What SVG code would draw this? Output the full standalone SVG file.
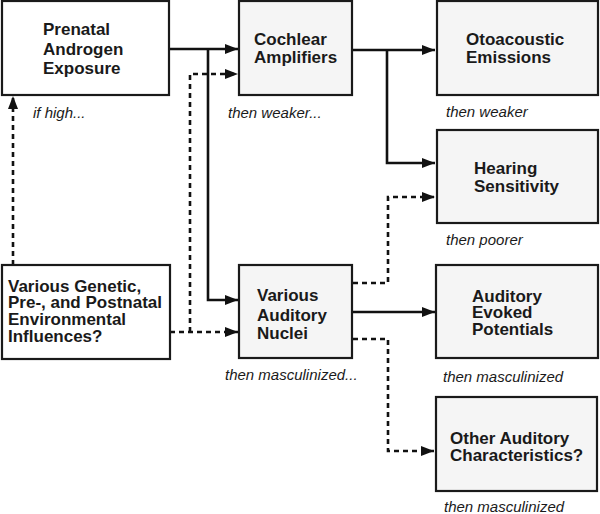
<svg xmlns="http://www.w3.org/2000/svg" width="600" height="514" viewBox="0 0 600 514">
<style>
.box{stroke:#1a1a1a;stroke-width:2.2}
.w{fill:#ffffff}
.g{fill:#f5f5f5}
.t{font-family:"Liberation Sans",Arial,sans-serif;font-weight:bold;font-size:17px;fill:#1a1a1a}
.n{font-family:"Liberation Sans",Arial,sans-serif;font-style:italic;font-size:15px;fill:#1a1a1a}
.s{fill:none;stroke:#111;stroke-width:2.6}
.d{fill:none;stroke:#111;stroke-width:2.6;stroke-dasharray:5 4}
</style>
<defs>
<marker id="ah" markerUnits="userSpaceOnUse" markerWidth="14" markerHeight="12" refX="13" refY="6" orient="auto">
<path d="M0,1 L13,6 L0,11 Z" fill="#111"/>
</marker>
</defs>
<rect width="600" height="514" fill="#fff"/>
<g id="connectors">
<path class="s" d="M169,49 H238" marker-end="url(#ah)"/>
<path class="s" d="M208,49 V300 H238" marker-end="url(#ah)"/>
<path class="s" d="M352,50 H435" marker-end="url(#ah)"/>
<path class="s" d="M387,50 V163 H435" marker-end="url(#ah)"/>
<path class="s" d="M352,312 H435" marker-end="url(#ah)"/>
<path class="d" d="M13,265 V96" marker-end="url(#ah)"/>
<path class="d" d="M170,332 H238" marker-end="url(#ah)"/>
<path class="d" d="M190,332 V74 H238" marker-end="url(#ah)"/>
<path class="d" d="M353,283 H388 V197 H435" marker-end="url(#ah)"/>
<path class="d" d="M353,339 H388 V451 H434" marker-end="url(#ah)"/>
</g>
<g id="prenatal">
<rect class="box w" x="2" y="1" width="167" height="94"/>
<text class="t" x="43" y="35">Prenatal</text>
<text class="t" x="43" y="55">Androgen</text>
<text class="t" x="43" y="74">Exposure</text>
<text class="n" x="33" y="118">if high...</text>
</g>
<g id="cochlear">
<rect class="box g" x="239" y="1" width="113" height="94"/>
<text class="t" x="254" y="45">Cochlear</text>
<text class="t" x="254" y="63">Amplifiers</text>
<text class="n" x="228" y="118">then weaker...</text>
</g>
<g id="otoacoustic">
<rect class="box g" x="437" y="1" width="161" height="94"/>
<text class="t" x="466" y="45">Otoacoustic</text>
<text class="t" x="466" y="63">Emissions</text>
<text class="n" x="446" y="117">then weaker</text>
</g>
<g id="hearing">
<rect class="box g" x="437" y="130" width="161" height="93"/>
<text class="t" x="474" y="174">Hearing</text>
<text class="t" x="474" y="192">Sensitivity</text>
<text class="n" x="446" y="245">then poorer</text>
</g>
<g id="genetic">
<rect class="box w" x="2" y="265" width="168" height="94"/>
<text class="t" x="8" y="292">Various Genetic,</text>
<text class="t" x="8" y="308">Pre-, and Postnatal</text>
<text class="t" x="8" y="325">Environmental</text>
<text class="t" x="8" y="342">Influences?</text>
</g>
<g id="nuclei">
<rect class="box g" x="239" y="265" width="113" height="93"/>
<text class="t" x="257" y="301">Various</text>
<text class="t" x="257" y="321">Auditory</text>
<text class="t" x="257" y="339">Nuclei</text>
<text class="n" x="225" y="380">then masculinized...</text>
</g>
<g id="evoked">
<rect class="box g" x="436" y="265" width="162" height="93"/>
<text class="t" x="472" y="302">Auditory</text>
<text class="t" x="472" y="318">Evoked</text>
<text class="t" x="472" y="335">Potentials</text>
<text class="n" x="443" y="382">then masculinized</text>
</g>
<g id="other">
<rect class="box g" x="436" y="397" width="161" height="94"/>
<text class="t" x="450" y="444">Other Auditory</text>
<text class="t" x="450" y="461">Characteristics?</text>
<text class="n" x="444" y="512">then masculinized</text>
</g>
</svg>
